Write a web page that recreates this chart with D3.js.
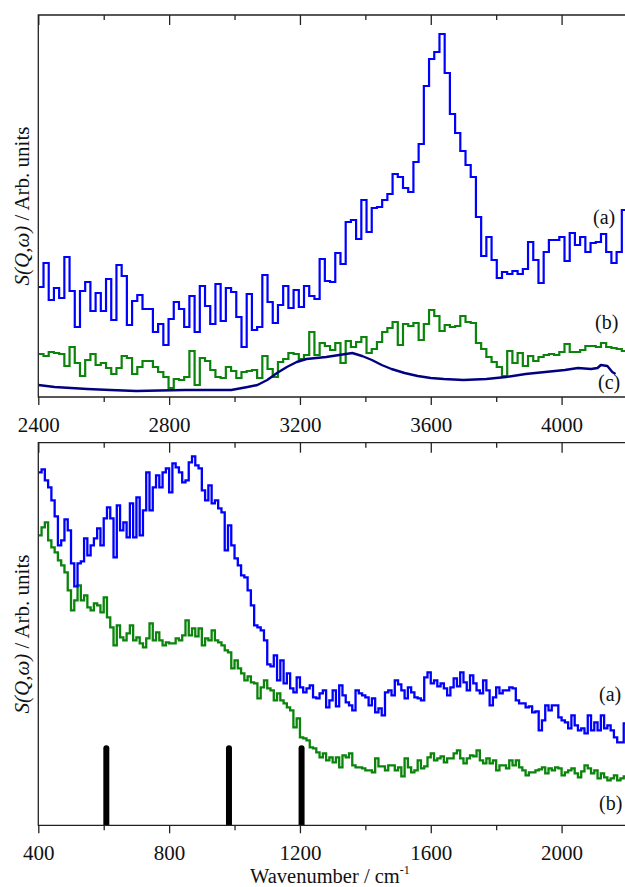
<!DOCTYPE html>
<html><head><meta charset="utf-8">
<script src="https://cdn.jsdelivr.net/npm/d3@7/dist/d3.min.js"></script>
<style>body{margin:0;background:#fff}svg{display:block}text{font-family:'Liberation Serif','Times New Roman',Times,serif}</style>
</head><body>
<script>
// ---------- DATA ----------
// Top panel: histogram bins (cm^-1) and intensities (arb. units)
const topBinStart = 2400;
const topBinWidth = 15.93;
const topA = [110,134,97,109,99,140,106,70,106,115,
86,104,86,118,77,132,121,72,96,102,
88,88,65,73,52,78,95,88,70,101,
65,111,91,73,113,76,109,105,80,50,
103,67,70,122,95,74,92,111,89,107,
90,111,101,98,138,116,115,144,133,175,
177,158,197,165,189,190,197,203,223,220,
209,205,235,253,311,338,345,363,324,283,
264,246,232,220,180,141,160,137,119,125,
123,126,123,128,155,137,114,145,157,157,
160,136,164,152,160,145,154,155,163,145,
134,145,187];
const topB = [43,41,45,44,43,31,50,34,21,37,
43,32,34,29,23,29,41,39,23,30,
36,36,30,25,20,9,18,17,20,46,
12,39,36,27,20,19,30,26,19,25,
26,27,19,41,28,20,35,38,44,43,
38,42,65,42,54,51,47,54,34,56,
50,55,60,44,48,55,65,69,75,52,
73,71,74,57,73,87,81,66,72,70,
71,81,75,74,54,48,40,35,30,21,
46,34,44,31,41,36,40,42,43,42,
45,53,45,45,47,51,51,50,54,50,
49,48,46];
const topCWavenumber = [2400,2450,2500,2550,2620,2700,2770,2850,2930,2990,
3040,3070,3100,3130,3160,3190,3220,3250,3280,3320,
3360,3390,3420,3450,3480,3520,3560,3600,3640,3700,
3770,3830,3890,3950,4010,4050,4090,4110,4120,4140,
4155,4165];
const topC = [12,10,9,8,7,6,6.5,7,7,7,
10,12,17,24,30,35,38,39,40,42,
44,41,37,32,28,24,21,19,18,17,
18,20,23,25,27,29,28,29,32,31,
25,23];

// Bottom panel
const botBinStart = 400;
const botBinWidth = 10;
const botA = [353,356,345,338,325,309,280,285,306,295,
262,239,262,264,287,270,280,287,297,280,
307,318,307,268,320,295,303,288,322,288,
328,290,315,353,315,338,350,338,353,357,
333,362,358,353,343,345,363,369,360,357,
335,325,340,322,325,317,313,275,300,280,
267,260,250,248,235,220,200,198,195,185,
161,159,170,145,165,142,152,137,133,148,
138,133,137,140,128,127,132,135,118,125,
135,119,140,130,123,120,115,135,132,130,
128,120,127,113,117,110,133,135,130,145,
141,135,127,138,133,128,127,125,148,153,
142,145,139,142,137,130,138,147,139,153,
143,135,150,142,135,132,145,135,120,128,
138,132,135,135,138,137,125,122,122,118,
119,113,114,95,105,120,115,120,120,108,
105,103,97,110,100,95,97,92,110,95,
103,95,110,97,100,95,88,83,83,102];
const botB = [290,298,303,285,278,273,265,260,253,235,
215,225,240,225,230,218,215,222,220,213,
228,208,198,180,200,188,185,192,200,185,
188,182,178,187,202,185,193,185,180,183,
182,182,187,185,190,205,190,197,189,197,
180,187,185,195,185,183,180,175,173,157,
165,157,152,145,149,143,142,127,138,145,
137,135,125,132,125,122,118,115,98,107,
88,87,85,78,77,73,68,72,65,68,
63,68,58,70,68,72,60,58,58,57,
55,55,53,67,59,59,55,60,60,55,
58,49,67,58,53,55,65,57,59,68,
72,65,67,69,63,67,67,72,75,67,
62,67,70,69,75,65,62,67,62,65,
55,60,60,57,65,60,65,58,55,50,
53,53,55,56,58,52,57,55,58,57,
50,53,55,57,52,48,54,60,57,52,
55,47,52,48,45,47,50,45,47,49];
const markerWavenumber = [608, 983, 1205];
const markerHeight = [77, 77, 77];

const topMajor = [2400, 2800, 3200, 3600, 4000];
const topMinor = [2600, 3000, 3400, 3800];
const botMajor = [400, 800, 1200, 1600, 2000];
const botMinor = [600, 1000, 1400, 1800];

// ---------- LAYOUT ----------
const W = 625, H = 887;
const L = 38.3, R = 627;
const P1 = {top: 15, bottom: 397};
const P2 = {top: 442.7, bottom: 825.3};
const FONT = "'Liberation Serif','Times New Roman',Times,serif";
const BLUE = "#0000ff", GREEN = "#0a840a", NAVY = "#000080", AX = "#222";

const svg = d3.select("body").append("svg").attr("width", W).attr("height", H)
  .style("font-family", FONT);

const topX = d3.scaleLinear().domain([2400, 4200]).range([L, R]);
const botX = d3.scaleLinear().domain([400, 2200]).range([L, R]);
const topY = d3.scaleLinear().domain([0, 382]).range([P1.bottom, P1.top]);
const botY = d3.scaleLinear().domain([0, 382.6]).range([P2.bottom, P2.top]);

const defs = svg.append("defs");
defs.append("clipPath").attr("id", "c1").append("rect")
  .attr("x", L).attr("y", P1.top).attr("width", R - L).attr("height", P1.bottom - P1.top);
defs.append("clipPath").attr("id", "c2").append("rect")
  .attr("x", L).attr("y", P2.top).attr("width", R - L).attr("height", P2.bottom - P2.top);

function stepData(start, width, vals) {
  const pts = vals.map((v, i) => [start + i * width, v]);
  pts.push([start + vals.length * width, vals[vals.length - 1]]);
  return pts;
}

// ---------- TOP PANEL ----------
const g1 = svg.append("g").attr("clip-path", "url(#c1)");
const stepTop = d3.line().x(d => topX(d[0])).y(d => topY(d[1])).curve(d3.curveStepAfter);
g1.append("path").attr("d", stepTop(stepData(topBinStart, topBinWidth, topB)))
  .attr("fill", "none").attr("stroke", GREEN).attr("stroke-width", 2.2);
g1.append("path").attr("d", stepTop(stepData(topBinStart, topBinWidth, topA)))
  .attr("fill", "none").attr("stroke", BLUE).attr("stroke-width", 2.2);
const lineC = d3.line().x((d, i) => topX(topCWavenumber[i])).y(d => topY(d));
g1.append("path").attr("d", lineC(topC))
  .attr("fill", "none").attr("stroke", NAVY).attr("stroke-width", 2.4).attr("stroke-linejoin", "round");

// ---------- BOTTOM PANEL ----------
const g2 = svg.append("g").attr("clip-path", "url(#c2)");
const stepBot = d3.line().x(d => botX(d[0])).y(d => botY(d[1])).curve(d3.curveStepAfter);
g2.append("path").attr("d", stepBot(stepData(botBinStart, botBinWidth, botB)))
  .attr("fill", "none").attr("stroke", GREEN).attr("stroke-width", 2.3);
g2.append("path").attr("d", stepBot(stepData(botBinStart, botBinWidth, botA)))
  .attr("fill", "none").attr("stroke", BLUE).attr("stroke-width", 2.3);
g2.selectAll("line.mk").data(markerWavenumber).join("line").attr("class", "mk")
  .attr("x1", d => botX(d)).attr("x2", d => botX(d))
  .attr("y1", botY(-10)).attr("y2", (d, i) => botY(markerHeight[i]))
  .attr("stroke", "#000").attr("stroke-width", 6).attr("stroke-linecap", "round");

// ---------- AXES & FRAMES ----------
function drawAxes(x, P, major, minor) {
  const gb = svg.append("g").attr("transform", `translate(0,${P.bottom})`);
  gb.call(d3.axisBottom(x).tickValues(major).tickSize(8).tickPadding(12).tickFormat(d3.format("d")));
  const gbm = svg.append("g").attr("transform", `translate(0,${P.bottom})`);
  gbm.call(d3.axisBottom(x).tickValues(minor).tickSize(5).tickFormat(""));
  const gt = svg.append("g").attr("transform", `translate(0,${P.top})`);
  gt.call(d3.axisTop(x).tickValues(major).tickSize(-10).tickFormat(""));
  const gtm = svg.append("g").attr("transform", `translate(0,${P.top})`);
  gtm.call(d3.axisTop(x).tickValues(minor).tickSize(-5).tickFormat(""));
  [gb, gbm, gt, gtm].forEach(g => {
    g.attr("font-family", FONT);
    g.select(".domain").remove();
    g.selectAll("line").attr("stroke", AX).attr("stroke-width", 1.3);
    g.selectAll("text").attr("font-family", FONT).attr("font-size", 21).attr("fill", "#111");
  });
  svg.append("path")
    .attr("d", `M${R},${P.top}H${L}V${P.bottom}H${R}`)
    .attr("fill", "none").attr("stroke", AX).attr("stroke-width", 1.3);
}
drawAxes(topX, P1, topMajor, topMinor);
drawAxes(botX, P2, botMajor, botMinor);

// ---------- TEXT ----------
function yTitle(cy) {
  const t = svg.append("text").attr("transform", `translate(29,${cy}) rotate(-90)`)
    .attr("text-anchor", "middle").attr("font-size", 21).attr("fill", "#111")
    .attr("font-family", FONT);
  t.append("tspan").attr("font-style", "italic").text("S(Q,ω)");
  t.append("tspan").text(" / Arb. units");
}
yTitle((P1.top + P1.bottom) / 2);
yTitle((P2.top + P2.bottom) / 2);

const xt = svg.append("text").attr("x", 250).attr("y", 883).attr("font-size", 20.5)
  .attr("fill", "#111").attr("font-family", FONT);
xt.append("tspan").text("Wavenumber / cm");
xt.append("tspan").attr("font-size", 12).attr("dy", -9).text("-1");

const labels = [
  {t: "(a)", x: 593, y: 224}, {t: "(b)", x: 595, y: 329}, {t: "(c)", x: 598, y: 389},
  {t: "(a)", x: 599, y: 701}, {t: "(b)", x: 599, y: 810}
];
svg.selectAll("text.lab").data(labels).join("text").attr("class", "lab")
  .attr("x", d => d.x).attr("y", d => d.y).attr("font-size", 20).attr("fill", "#111")
  .attr("font-family", FONT)
  .text(d => d.t);
</script>
</body></html>
